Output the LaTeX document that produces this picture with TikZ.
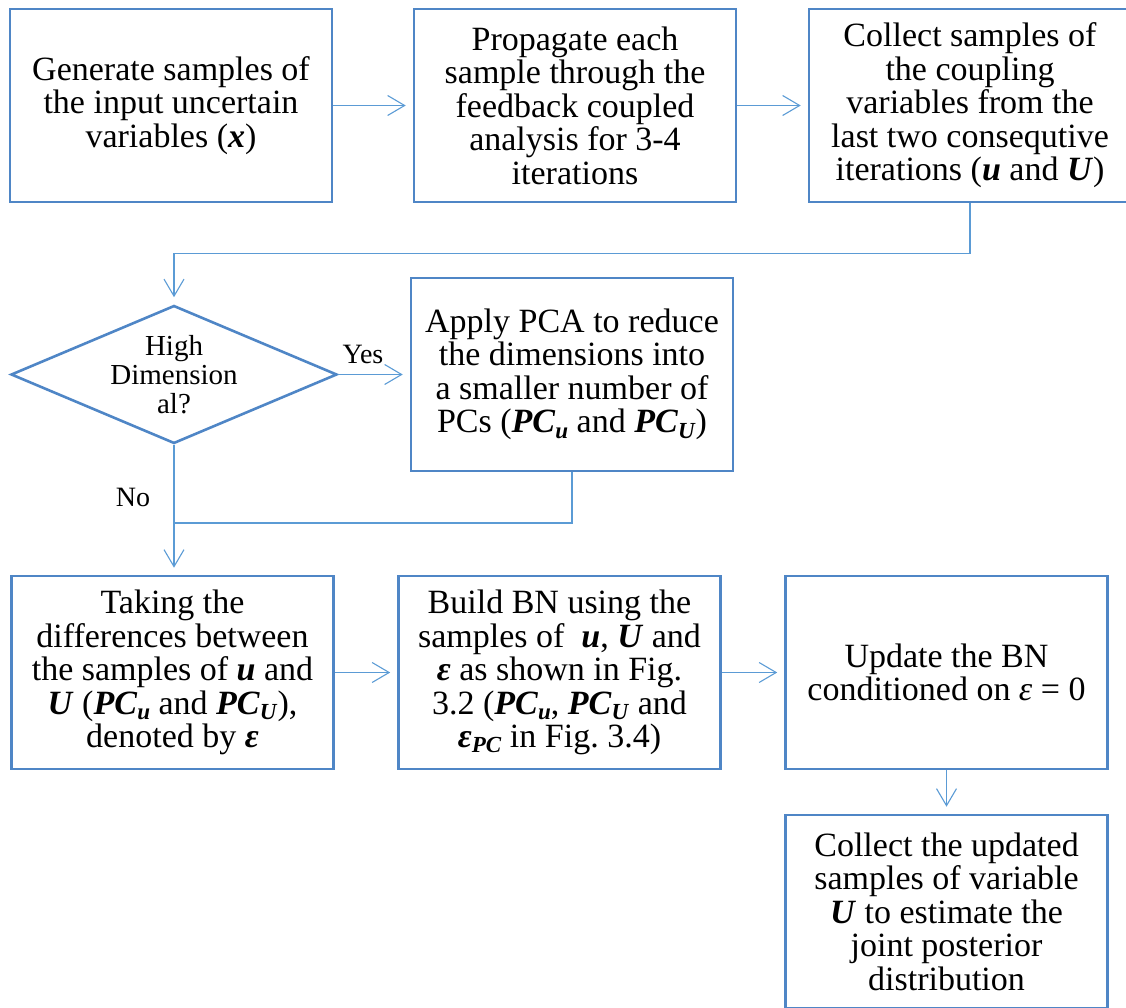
\documentclass[tikz,border=0pt]{standalone}
\usepackage{fontspec}
\setmainfont{Liberation Serif}
\usetikzlibrary{arrows.meta,shapes.geometric}
\frenchspacing

\definecolor{boxblue}{RGB}{79,134,198}
\definecolor{linkblue}{RGB}{91,155,213}

% bold italic symbols and lowered subscripts
\newcommand\bv[1]{\textbf{\textit{#1}}}
\newcommand\lowsub[1]{\raisebox{-0.15em}{\fontsize{23}{23}\selectfont\bv{#1}}}

\tikzset{
  stepbox/.style={draw=boxblue, line width=2.6pt, fill=white, inner sep=0pt,
    align=center, minimum width=322pt, minimum height=193pt,
    font=\fontsize{34}{33.5}\selectfont},
  decision/.style={diamond, draw=boxblue, line width=2.6pt, inner sep=0pt,
    minimum width=326pt, minimum height=138pt},
  smalltext/.style={align=center, inner sep=0pt, font=\fontsize{29}{29}\selectfont},
  link/.style={draw=linkblue, line width=1.1pt,
    -{Straight Barb[length=17pt,width=20pt]}, shorten >=7pt},
  plainlink/.style={draw=linkblue, line width=1.1pt}
}

\begin{document}
\begin{tikzpicture}[x=1pt, y=-1pt]
\useasboundingbox (0,0) rectangle (1126,1008);

% first row
\node[stepbox] (gen) at (171,105.5)
  {Generate samples of\\the input uncertain\\variables (\bv{x})};
\node[stepbox] (prop) at (575,105.5)
  {Propagate each\\sample through the\\feedback coupled\\analysis for 3-4\\iterations};
\node[stepbox] (coll) at (970,105.5)
  {Collect samples of\\the coupling\\variables from the\\last two consequtive\\iterations (\bv{u} and \bv{U})};

% decision and PCA
\node[decision] (dec) at (174,374.5) {};
\node[smalltext] (dectext) at (dec.center) {High\\Dimension\\al?};
\node[stepbox] (pca) at (572,374.5)
  {Apply PCA to reduce\\the dimensions into\\a smaller number of\\PCs (\bv{PC}\lowsub{u} and \bv{PC}\lowsub{U})};

% second row
\node[stepbox] (diff) at (172.5,672.5)
  {Taking the\\differences between\\the samples of \bv{u} and\\\bv{U} (\bv{PC}\lowsub{u} and \bv{PC}\lowsub{U}),\\denoted by \bv{ε}};
\node[stepbox] (bn) at (559.5,672.5)
  {Build BN using the\\samples of \ \bv{u}, \bv{U} and\\\bv{ε} as shown in Fig.\\3.2 (\bv{PC}\lowsub{u}, \bv{PC}\lowsub{U} and\\\bv{ε}\lowsub{PC} in Fig. 3.4)};
\node[stepbox] (upd) at (946.5,672.5)
  {Update the BN\\conditioned on \textit{ε}\ =\ 0};
\node[stepbox] (post) at (946.5,911.5)
  {Collect the updated\\samples of variable\\\bv{U} to estimate the\\joint posterior\\distribution};

% branch labels
\node[smalltext, font=\fontsize{28}{28}\selectfont] (yes) at (363,354) {Yes};
\node[smalltext, font=\fontsize{28}{28}\selectfont] (no) at (133,497) {No};

% connectors
\draw[link] (gen.east) -- (prop.west);
\draw[link] (prop.east) -- (coll.west);
\draw[link] (coll.south) -- ++(0,50) -| (dec.north);
\draw[link] (dec.east) -- (pca.west);
\coordinate (merge) at (dec.south |- 0,523);
\draw[plainlink] (pca.south) |- (merge);
\draw[link] (dec.south) -- (dec.south |- diff.north);
\draw[link] (diff.east) -- (bn.west);
\draw[link] (bn.east) -- (upd.west);
\draw[link] (upd.south) -- (post.north);
\end{tikzpicture}
\end{document}
